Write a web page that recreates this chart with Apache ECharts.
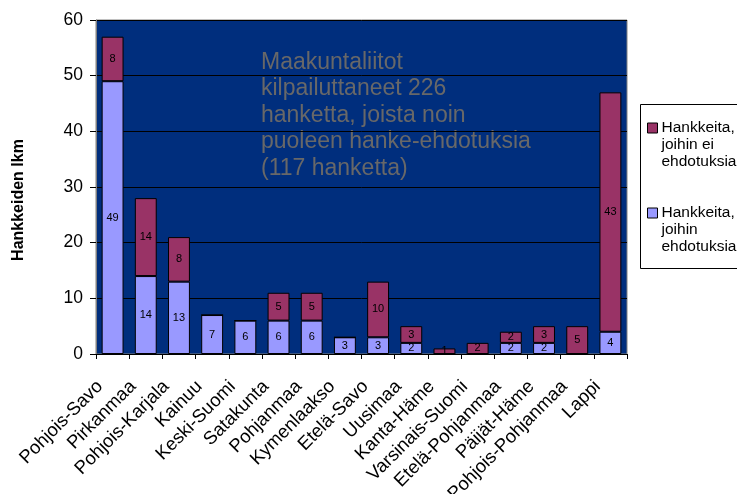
<!DOCTYPE html>
<html>
<head>
<meta charset="utf-8">
<script src="https://cdn.jsdelivr.net/npm/echarts@6/dist/echarts.min.js"></script>
<style>
  html, body { margin: 0; padding: 0; background: #fff; }
  #chart { width: 737px; height: 494px; }
</style>
</head>
<body>
<div id="chart"></div>
<script>
// maakunnat
var categories = ['Pohjois-Savo', 'Pirkanmaa', 'Pohjois-Karjala', 'Kainuu', 'Keski-Suomi',
    'Satakunta', 'Pohjanmaa', 'Kymenlaakso', 'Etelä-Savo', 'Uusimaa', 'Kanta-Häme',
    'Varsinais-Suomi', 'Etelä-Pohjanmaa', 'Päijät-Häme', 'Pohjois-Pohjanmaa', 'Lappi'];
var withProposals = [49, 14, 13, 7, 6, 6, 6, 3, 3, 2, 0, 0, 2, 2, 0, 4];
var noProposals = [8, 14, 8, 0, 0, 5, 5, 0, 10, 3, 1, 2, 2, 3, 5, 43];
var yTicks = [0, 10, 20, 30, 40, 50, 60];
var noteLines = ['Maakuntaliitot', 'kilpailuttaneet 226', 'hanketta, joista noin',
    'puoleen hanke-ehdotuksia', '(117 hanketta)'];

var nameNo = 'Hankkeita, joihin ei ehdotuksia';
var nameYes = 'Hankkeita, joihin ehdotuksia';
var font = 'Liberation Sans, Arial, sans-serif';

var chart = echarts.init(document.getElementById('chart'));

var segLabel = {
    show: true,
    position: 'inside',
    color: '#000',
    fontSize: 11,
    fontFamily: font,
    formatter: function (p) { return p.value ? p.value : ''; }
};

var option = {
    animation: false,
    textStyle: { fontFamily: font },
    grid: {
        left: 96, top: 20, right: 110, bottom: 140,
        outerBoundsMode: 'none',
        show: true,
        backgroundColor: '#002E7D',
        borderColor: '#808080',
        borderWidth: 1
    },
    legend: {
        orient: 'vertical',
        left: 647,
        top: 85.5,
        padding: 0,
        itemGap: 0,
        itemWidth: 10,
        itemHeight: 10,
        icon: 'rect',
        itemStyle: { borderColor: '#000', borderWidth: 1 },
        data: [nameNo, nameYes],
        // two empty lines on top keep the square level with the first text line
        formatter: function (n) {
            return n === nameNo ? ' \n \nHankkeita,\njoihin ei\nehdotuksia' : ' \n \nHankkeita,\njoihin\nehdotuksia';
        },
        textStyle: { fontSize: 15.5, lineHeight: 17, color: '#000', padding: [0, 0, 0, -1] }
    },
    xAxis: {
        type: 'category',
        data: categories,
        axisLine: { lineStyle: { color: '#000' } },
        axisTick: { show: true, length: 5, lineStyle: { color: '#000' } },
        axisLabel: { rotate: 45, interval: 0, fontSize: 18.5, color: '#000', margin: 17,
            padding: [0, 18, 0, 0] }
    },
    yAxis: {
        type: 'value',
        min: yTicks[0],
        max: yTicks[yTicks.length - 1],
        interval: 10,
        axisLine: { show: true, lineStyle: { color: '#808080' } },
        axisTick: { show: true, length: 6, lineStyle: { color: '#000' } },
        axisLabel: { fontSize: 17.5, color: '#000', margin: 13 },
        splitLine: { lineStyle: { color: '#000', width: 1 } }
    },
    series: [
        {
            name: nameYes,
            type: 'bar',
            stack: 'all',
            barCategoryGap: '34%',
            data: withProposals,
            itemStyle: { color: '#9999FF', borderColor: '#000', borderWidth: 1 },
            label: segLabel
        },
        {
            name: nameNo,
            type: 'bar',
            stack: 'all',
            barCategoryGap: '34%',
            data: noProposals,
            itemStyle: { color: '#993366', borderColor: '#000', borderWidth: 1 },
            label: segLabel
        }
    ],
    graphic: [
        {
            type: 'text',
            left: 261,
            top: 49,
            style: {
                text: noteLines.join('\n'),
                fontSize: 23,
                lineHeight: 26.5,
                fill: '#686868',
                fontFamily: font
            }
        },
        {
            type: 'text',
            x: 18.5,
            y: 200,
            rotation: Math.PI / 2,
            style: {
                text: 'Hankkeiden lkm',
                fontSize: 16,
                fontWeight: 'bold',
                fill: '#000',
                align: 'center',
                verticalAlign: 'middle',
                fontFamily: font
            }
        },
        {
            type: 'rect',
            shape: { x: 640.5, y: 104.5, width: 120, height: 164 },
            style: { fill: 'none', stroke: '#000', lineWidth: 1 },
            z: -1
        }
    ]
};

chart.setOption(option);
</script>
</body>
</html>
